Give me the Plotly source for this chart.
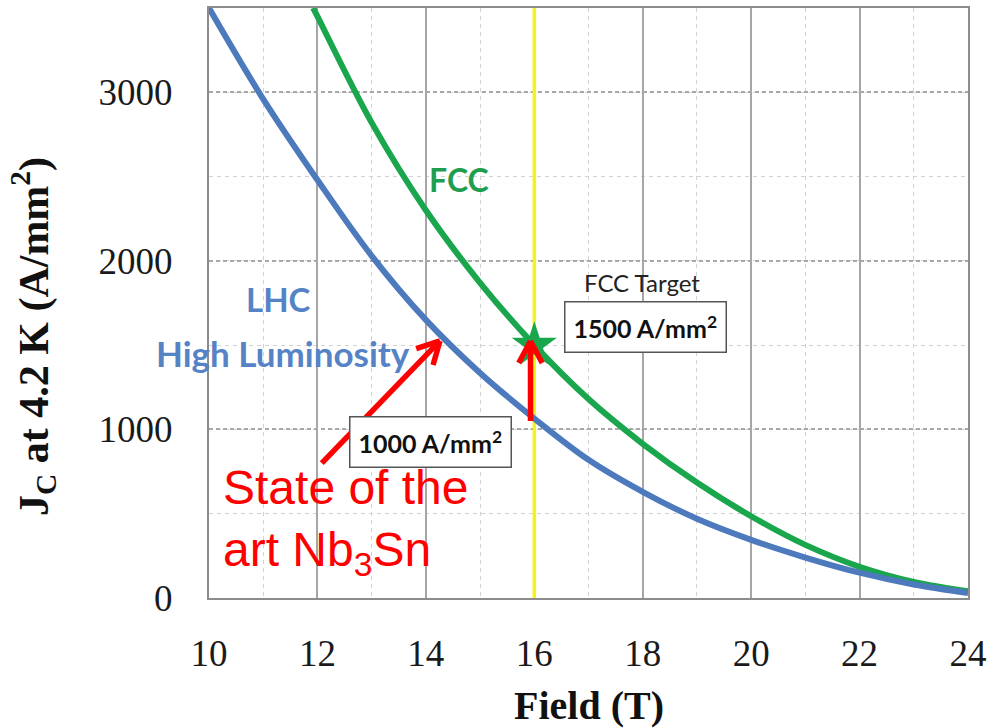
import math
import plotly.graph_objects as go

# Critical current density of Nb3Sn wire at 4.2 K versus applied field
field_lhc = [10, 11, 12, 13, 14, 15, 16, 17, 18, 19, 20, 21, 22, 23, 24]
jc_lhc = [3500, 2960, 2480, 2030, 1650, 1335, 1065, 820, 630, 470, 345, 240, 150, 80, 30]

field_fcc = [11.92, 12, 13, 14, 15, 16, 17, 18, 19, 20, 21, 22, 23, 24]
jc_fcc = [3500, 3450, 2820, 2300, 1870, 1500, 1180, 915, 685, 485, 315, 185, 95, 40]

x_ticks = [10, 12, 14, 16, 18, 20, 22, 24]
y_ticks = [0, 1000, 2000, 3000]

TARGET_FIELD = 16
TARGET_JC = 1500
X_RANGE = (10, 24)
Y_RANGE = (0, 3500)

# figure geometry (pixels)
W, H = 990, 728
ML, MR, MT, MB = 209, 22, 8, 130
PW, PH = W - ML - MR, H - MT - MB
SX = PW / (X_RANGE[1] - X_RANGE[0])
SY = PH / (Y_RANGE[1] - Y_RANGE[0])

BLUE = "#4d79bd"
GREEN = "#1aa64d"
RED = "#ff0000"
SERIF = "Liberation Serif"
SANS = "Lato"


def arrow_path(tail, tip, head_len=25, head_angle=28):
    """Shaft plus open chevron head, in data coordinates."""
    dx = (tip[0] - tail[0]) * SX
    dy = (tip[1] - tail[1]) * SY
    n = math.hypot(dx, dy)
    ux, uy = -dx / n, -dy / n
    xs = [tail[0], tip[0], None]
    ys = [tail[1], tip[1], None]
    for sgn in (1, -1):
        a = math.radians(head_angle) * sgn
        bx = ux * math.cos(a) - uy * math.sin(a)
        by = ux * math.sin(a) + uy * math.cos(a)
        xs.append(tip[0] + bx * head_len / SX)
        ys.append(tip[1] + by * head_len / SY)
        xs.append(tip[0])
        ys.append(tip[1])
        xs.append(None)
        ys.append(None)
    return xs, ys


fig = go.Figure()

# target field marker line
fig.add_trace(go.Scatter(x=[TARGET_FIELD, TARGET_FIELD], y=list(Y_RANGE), mode="lines",
                         line=dict(color="#f4f41c", width=3.5),
                         showlegend=False, hoverinfo="skip"))

fig.add_trace(go.Scatter(x=field_fcc, y=jc_fcc, mode="lines",
                         line=dict(color=GREEN, width=6, shape="spline", smoothing=1.0),
                         showlegend=False, hoverinfo="skip"))
fig.add_trace(go.Scatter(x=field_lhc, y=jc_lhc, mode="lines",
                         line=dict(color=BLUE, width=6, shape="spline", smoothing=1.0),
                         showlegend=False, hoverinfo="skip"))
fig.add_trace(go.Scatter(x=[TARGET_FIELD], y=[TARGET_JC], mode="markers",
                         marker=dict(symbol="star", size=34, color=GREEN, line=dict(width=0)),
                         showlegend=False, hoverinfo="skip"))

# red arrows
for tail, tip in [((15.93, 1050), (15.93, 1525)), ((12.08, 800), (14.26, 1525))]:
    ax_, ay_ = arrow_path(tail, tip)
    fig.add_trace(go.Scatter(x=ax_, y=ay_, mode="lines",
                             line=dict(color=RED, width=5.5), showlegend=False,
                             hoverinfo="skip"))

annotations = [
    dict(x=11.29, y=1771, text="<b>LHC</b>", font=dict(family=SANS, size=33, color="#5583c6")),
    dict(x=11.37, y=1456, text="<b>High Luminosity</b>", font=dict(family=SANS, size=35, color="#5583c6")),
    dict(x=14.61, y=2484, text="<b>FCC</b>", font=dict(family=SANS, size=32, color="#1f9e4f")),
    dict(x=17.99, y=1872, text="FCC Target", font=dict(family=SANS, size=24, color="#222222")),
    dict(x=18.06, y=1607, text="<b>1500 A/mm<sup>2</sup></b>", font=dict(family=SANS, size=25, color="#111111"),
         bordercolor="#555555", borderwidth=1.5, borderpad=8, bgcolor="white"),
    dict(x=14.08, y=927, text="<b>1000 A/mm<sup>2</sup></b>", font=dict(family=SANS, size=25, color="#111111"),
         bordercolor="#555555", borderwidth=1.5, borderpad=8, bgcolor="white"),
]
for a in annotations:
    fig.add_annotation(xref="x", yref="y", showarrow=False, xanchor="center", yanchor="middle", **a)

fig.add_annotation(xref="x", yref="y", x=10.22, y=452, xanchor="left", yanchor="middle",
                   align="left", showarrow=False,
                   text="State of the<br>art Nb<sub>3</sub>Sn",
                   font=dict(family="Liberation Sans", size=48, color=RED))

# axis titles
fig.add_annotation(xref="paper", yref="paper", x=0.5, y=(H - MB - 705) / PH,
                   xanchor="center", yanchor="middle", showarrow=False,
                   text="<b>Field (T)</b>", font=dict(family=SERIF, size=40, color="#111111"))
fig.add_annotation(xref="paper", yref="paper", x=(33 - ML) / PW, y=(H - MB - 337) / PH,
                   xanchor="center", yanchor="middle", showarrow=False, textangle=-90,
                   text="<b>J<sub>C</sub> at 4.2 K (A/mm<sup>2</sup>)</b>",
                   font=dict(family=SERIF, size=42, color="#111111"))

fig.update_xaxes(range=list(X_RANGE), tickvals=x_ticks, ticktext=[str(v) for v in x_ticks],
                 showgrid=True, gridcolor="#a6a6a6", gridwidth=1.5,
                 minor=dict(dtick=1, tick0=10, showgrid=True, gridcolor="#d2d2d2",
                            gridwidth=1, griddash="4px,4px"),
                 showline=True, linecolor="#8c8c8c", linewidth=2, mirror=True,
                 zeroline=False, ticks="", ticklabelstandoff=22,
                 tickfont=dict(family=SERIF, size=37, color="#1a1a1a"), automargin=False)
fig.update_yaxes(range=list(Y_RANGE), tickvals=y_ticks, ticktext=[str(v) for v in y_ticks],
                 showgrid=True, gridcolor="#a8a8a8", gridwidth=1.5, griddash="4px,3px",
                 minor=dict(dtick=500, tick0=0, showgrid=True, gridcolor="#d2d2d2",
                            gridwidth=1, griddash="4px,4px"),
                 showline=True, linecolor="#8c8c8c", linewidth=2, mirror=True,
                 zeroline=False, ticks="", ticklabelstandoff=27,
                 tickfont=dict(family=SERIF, size=37, color="#1a1a1a"), automargin=False)

fig.update_layout(width=W, height=H, autosize=False,
                  margin=dict(l=ML, r=MR, t=MT, b=MB, pad=0),
                  paper_bgcolor="white", plot_bgcolor="white", showlegend=False)

fig.write_html("out.html")
